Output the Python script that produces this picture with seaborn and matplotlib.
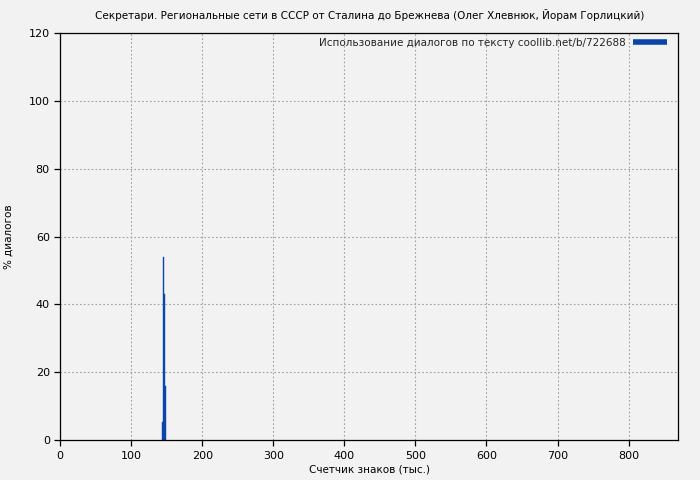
import numpy as np
import pandas as pd
import matplotlib
matplotlib.use("Agg")
import matplotlib.pyplot as plt
import seaborn as sns
from matplotlib.lines import Line2D

# данные
chars_k = [144.0, 145.4, 146.8, 148.2]
dialog_pct = [5.5, 54, 43, 16]
title = "Секретари. Региональные сети в СССР от Сталина до Брежнева (Олег Хлевнюк, Йорам Горлицкий)"
legend_label = "Использование диалогов по тексту coollib.net/b/722688"

df = pd.DataFrame({"x": chars_k, "pct": dialog_pct})

sns.set_theme(style="whitegrid")
plt.rcParams['font.family'] = ['DejaVu Sans']
bg = "#f2f2f2"
fig, ax = plt.subplots(figsize=(7, 4.8), dpi=100)
fig.patch.set_facecolor(bg)
ax.set_facecolor(bg)

sns.histplot(data=df, x="x", weights="pct", binwidth=1.4, binrange=(143.3, 148.9),
             color="#0b45aa", alpha=1, edgecolor="#0b45aa", linewidth=0.3, ax=ax)

ax.set_xlim(0, 870)
ax.set_ylim(0, 120)
ax.set_xticks(range(0, 801, 100))
ax.set_yticks(range(0, 121, 20))
ax.grid(True, color="#a0a0a0", linestyle=(0, (1.5, 2)), linewidth=0.8)
for s in ax.spines.values():
    s.set_color("black")
    s.set_linewidth(0.9)
ax.tick_params(labelsize=8, length=4, color="black", labelcolor="black",
               direction="out", bottom=True, left=True, width=0.9)
ax.set_xlabel("Счетчик знаков (тыс.)", fontsize=7.5, color="black", labelpad=3)
ax.set_ylabel("% диалогов", fontsize=7.5, color="black", labelpad=11)
ax.set_title(title, fontsize=7.5, pad=10, color="black")

handle = Line2D([0], [0], color="#0b45aa", lw=4, solid_capstyle="butt")
ax.legend([handle], [legend_label], loc="upper right", bbox_to_anchor=(0.981, 0.988),
          frameon=False, fontsize=7.5, handlelength=3.2, borderaxespad=0,
          markerfirst=False, handletextpad=0.7, borderpad=0)

fig.subplots_adjust(left=0.086, right=0.969, top=0.931, bottom=0.083)
fig.savefig("out.png", dpi=100, facecolor=bg)
